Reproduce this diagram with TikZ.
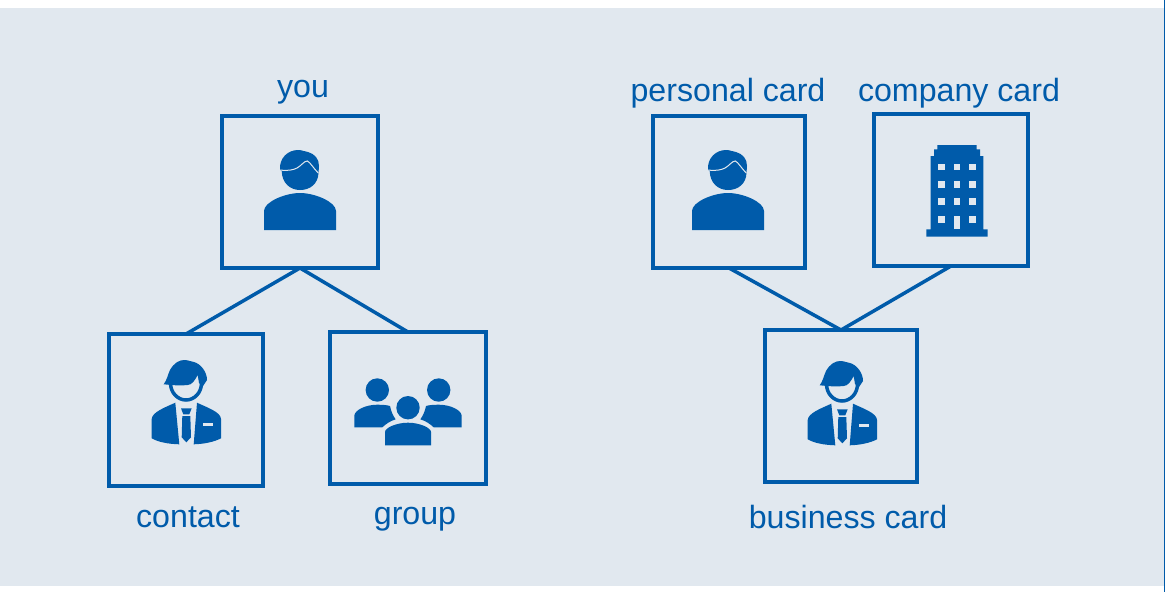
\documentclass[tikz,border=0pt]{standalone}
\usepackage{fontspec}
\setmainfont{Liberation Sans}
\definecolor{cardblue}{HTML}{005BAA}
\definecolor{cardbg}{HTML}{E1E8EF}
\tikzset{
    box/.style={draw=cardblue, line width=0.08cm, minimum width=3.12cm, minimum height=3.04cm, inner sep=0, outer sep=0},
    link/.style={draw=cardblue, line width=0.07cm},
    lbl/.style={text=cardblue, font=\fontsize{18.3}{20}\selectfont, inner sep=0},
    person/.pic={
        \fill[cardblue] (-20,-22) .. controls (-21,-34) and (-12,-42) .. (-2,-42)
            .. controls (3,-42) and (5,-40) .. (8,-40) .. controls (15,-38) and (19,-33) .. (19,-26)
            -- (18.5,-19) .. controls (18,-8) and (10,-2) .. (0,-2) .. controls (-10,-2) and (-18,-9) .. (-18.3,-21) -- cycle;
        \draw[cardbg, line width=0.02cm] (-20,-22) .. controls (-12,-21) and (-7,-22) .. (-3,-24)
            .. controls (1,-26) and (4,-31) .. (7.3,-31) .. controls (10,-30) and (14,-23) .. (18.3,-19);
        \fill[cardblue] (-36,38) -- (-36,19) .. controls (-36,10) and (-15,1) .. (0,1)
            .. controls (15,1) and (36,10) .. (36,19) -- (36,38) -- cycle;
    },
    suit/.pic={
        % Hair and face
        \fill[cardblue] (-22.3,-25.7) .. controls (-19,-30) and (-18,-36) .. (-16,-40)
            .. controls (-12,-47) and (-7,-50) .. (-1.7,-50) .. controls (3,-50) and (5,-48) .. (8,-48)
            .. controls (15,-46) and (21,-38) .. (21,-30) -- (17,-24) -- (13,-27) -- (11.7,-35)
            .. controls (9,-30) and (6,-25) .. (1.7,-25) .. controls (-6,-24) and (-14,-25) .. (-22.3,-25.7) -- cycle;
        \draw[cardblue, line width=0.07cm] (-15.5,-27) .. controls (-15.5,-17) and (-8,-10) .. (0,-10)
            .. controls (8,-10) and (15.5,-17) .. (15.5,-27);
        % Jacket
        \fill[cardblue] (-10.7,-7.3) -- (-6.7,34.3) .. controls (-18,34) and (-28,32) .. (-34.3,28.3)
            -- (-34.3,9) .. controls (-34,2) and (-20,-3) .. (-10.7,-7.3) -- cycle;
        \fill[cardblue] (11,-7.3) -- (7.7,34.3) .. controls (18,34) and (28,32) .. (35,28.3)
            -- (35,9) .. controls (35,2) and (20,-3) .. (11,-7.3) -- cycle;
        \fill[cardbg] (16.7,13.3) rectangle (26.7,15.7);
        % Tie
        \fill[cardblue] (-5,-1.7) -- (5.7,-1.7) -- (3.3,4.3) -- (-2.7,4.3) -- cycle;
        \fill[cardblue] (-3.7,6) -- (4.3,6) -- (5,27.3) -- (0.3,32.3) -- (-4.3,27.3) -- cycle;
    },
    team/.pic={
        % Back row
        \foreach \s in {-1,1} {
            \fill[cardblue] (\s*30.7,-18) circle (11.7);
            \fill[cardblue] (\s*53.7,19.3) -- (\s*53.7,8) .. controls (\s*53.7,2) and (\s*42,-3.3) .. (\s*31,-3.3)
                .. controls (\s*26,-3.3) and (\s*21,-3) .. (\s*18,-2) .. controls (\s*17,3) and (\s*15,8) .. (\s*12.3,11.3)
                .. controls (\s*18,13) and (\s*22,16) .. (\s*25.7,19.3) -- cycle;
        }
        % Front
        \fill[cardblue] (0,-0.3) circle (11.7);
        \fill[cardblue] (-23,37.3) -- (-23,24) .. controls (-23,20) and (-12,14.7) .. (0,14.7)
            .. controls (12,14.7) and (23,20) .. (23,24) -- (23,37.3) -- cycle;
    },
    tower/.pic={
        \fill[cardblue] (-24.7,46.7) -- (-24.7,39.3) -- (-20.3,39.3) -- (-20.3,-34) -- (-17,-34) -- (-17,-40.7)
            -- (-13.7,-40.7) -- (-13.7,-45) -- (25.7,-45) -- (25.7,-40.7) -- (29,-40.7) -- (29,-34) -- (32.3,-34)
            -- (32.3,39.3) -- (36.7,39.3) -- (36.7,46.7) -- cycle;
        % Windows
        \foreach \wx in {-12.7,2.7,18} {
            \foreach \wy in {-26.3,-9,8.3} {
                \fill[cardbg] (\wx,\wy) rectangle ++(6.7,6.7);
            }
        }
        \fill[cardbg] (-12.7,26) rectangle ++(6.7,6.7);
        \fill[cardbg] (18,26) rectangle ++(6.7,6.7);
        % Door
        \fill[cardbg] (2.7,26) rectangle (9.3,39.3);
    },
}
\begin{document}
\begin{tikzpicture}[x=0.02cm, y=-0.02cm]

    \useasboundingbox (0,0) rectangle (1165,592);

    % Background
    \fill[cardbg] (0,8) rectangle (1165,586);
    \fill[cardblue] (1164,0) rectangle (1165,592);

    %% Left tree

    % Boxes
    \node[box] (you) at (300,192) {};
    \node[box, minimum width=3.08cm] (contact) at (186,410) {};
    \node[box] (group) at (408,408) {};

    % Lines
    \draw[link] (you.south) -- (contact.north);
    \draw[link] (you.south) -- (group.north);

    % Icons
    \pic at (you) {person};
    \pic at (contact) {suit};
    \pic at (group) {team};

    % Labels
    \node[lbl] (youlbl) at (303,92) {you};
    \node[lbl] (contactlbl) at (188,517) {contact};
    \node[lbl] (grouplbl) at (415,519) {group};

    %% Right tree

    % Boxes
    \node[box, minimum width=3.04cm] (personal) at (729,192) {};
    \node[box, minimum width=3.08cm] (company) at (951,190) {};
    \node[box, minimum width=3.04cm] (business) at (841,406) {};

    % Lines
    \draw[link] (personal.south) -- (business.north);
    \draw[link] (company.south) -- (business.north);

    % Icons
    \pic at (728,192) {person};
    \pic at (company) {tower};
    \pic at (842,411) {suit};

    % Labels
    \node[lbl] (personallbl) at (728,93) {personal card};
    \node[lbl] (companylbl) at (959,93) {company card};
    \node[lbl] (businesslbl) at (848,517) {business card};

\end{tikzpicture}
\end{document}
